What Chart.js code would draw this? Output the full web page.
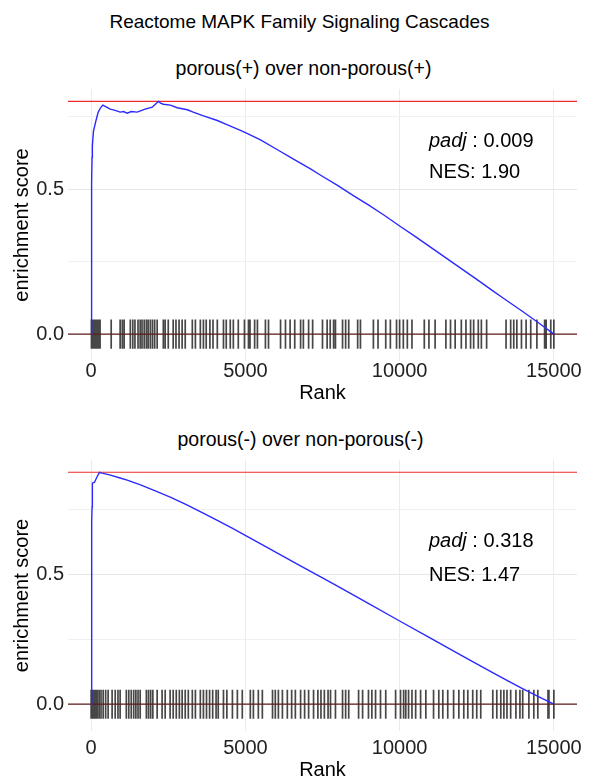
<!DOCTYPE html>
<html>
<head>
<meta charset="utf-8">
<script src="https://cdn.jsdelivr.net/npm/chart.js@4.4.1/dist/chart.umd.min.js"></script>
<style>
  body { margin: 0; width: 591px; height: 779px; overflow: hidden; background: #fff; position: relative;
         font-family: "Liberation Sans", Arial, sans-serif; color: #000; }
  canvas { position: absolute; left: 0; }
  .txt { position: absolute; white-space: nowrap; line-height: 20px; font-size: 20px; }
  .ttl { position: absolute; left: 0; width: 591px; text-align: center; white-space: nowrap; line-height: 20px; font-size: 19.5px; }
</style>
</head>
<body>
<div class="ttl" style="top:12px; left:4px; font-size:19px">Reactome MAPK Family Signaling Cascades</div>
<div class="ttl" style="top:58px; left:8px">porous(+) over non-porous(+)</div>
<div class="ttl" style="top:429px; left:5px">porous(-) over non-porous(-)</div>
<canvas id="plus" width="591" height="410" style="top:0"></canvas>
<canvas id="minus" width="591" height="375" style="top:410px"></canvas>
<div class="txt" style="left:429px; top:130px"><i>padj</i> : 0.009</div>
<div class="txt" style="left:429px; top:161px">NES: 1.90</div>
<div class="txt" style="left:429px; top:530px"><i>padj</i> : 0.318</div>
<div class="txt" style="left:429px; top:564px">NES: 1.47</div>
<script>
const rankTicks = [0, 5000, 10000, 15000];
const esTicks = [0, 0.25, 0.5, 0.75];

// porous(+) over non-porous(+)
const plusRank = [0, 10, 20, 30, 40, 75, 160, 230, 300, 380, 500, 620, 780, 940, 1050, 1170, 1300, 1490,
  1600, 1750, 1980, 2100, 2180, 2250, 2340, 2570, 2790, 3120, 3310, 3640, 4090, 4420, 4840, 5070, 5490,
  6040, 6560, 7110, 7440, 8000, 8500, 9000, 9500, 10000, 10500, 11000, 11500, 12000, 12500, 13000,
  13400, 14000, 14500, 15000];
const plusES = [0, 0.30, 0.52, 0.61, 0.65, 0.70, 0.738, 0.766, 0.78, 0.79, 0.783, 0.776, 0.772, 0.766,
  0.768, 0.762, 0.768, 0.766, 0.770, 0.776, 0.783, 0.795, 0.803, 0.797, 0.793, 0.79, 0.781, 0.774, 0.766,
  0.753, 0.737, 0.722, 0.703, 0.692, 0.670, 0.636, 0.604, 0.570, 0.548, 0.512, 0.478, 0.445, 0.41, 0.373,
  0.337, 0.30, 0.263, 0.226, 0.189, 0.151, 0.121, 0.077, 0.039, 0];
const plusHits = [10, 25, 45, 70, 95, 130, 160, 190, 220, 260, 290, 650, 940, 1010, 1070, 1270, 1350, 1420,
  1520, 1590, 1650, 1720, 1790, 1850, 1920, 1990, 2060, 2140, 2340, 2400, 2500, 2660, 2750, 2850, 2950,
  3050, 3280, 3380, 3540, 3640, 3730, 3850, 3950, 4090, 4290, 4380, 4510, 4610, 4770, 4970, 5100, 5150,
  5300, 5390, 5650, 5750, 6140, 6300, 6450, 6600, 6790, 6880, 7050, 7180, 7500, 7650, 7750, 7860, 7920,
  8150, 8250, 8350, 8640, 8730, 9150, 9300, 9550, 9700, 9900, 10000, 10120, 10250, 10400, 10800, 10950,
  11150, 11500, 11650, 11800, 12000, 12150, 12300, 12400, 12550, 12650, 12820, 13450, 13600, 13700,
  13800, 13950, 14100, 14250, 14450, 14700, 14750, 14900, 15000];

// porous(-) over non-porous(-)
const minusRank = [0, 10, 25, 30, 40, 110, 185, 270, 350, 600, 940, 1170, 1600, 2140, 2600, 3120, 3600,
  4090, 4600, 5070, 5600, 6140, 6800, 7440, 8000, 9000, 10000, 11000, 12000, 13000, 13510, 14000,
  14500, 15000];
const minusES = [0, 0.40, 0.70, 0.758, 0.85, 0.854, 0.873, 0.892, 0.889, 0.882, 0.870, 0.862, 0.844, 0.818,
  0.795, 0.766, 0.737, 0.707, 0.675, 0.645, 0.610, 0.574, 0.531, 0.490, 0.453, 0.387, 0.320, 0.254, 0.188,
  0.122, 0.090, 0.059, 0.029, 0];
const minusHits = [0, 30, 60, 100, 150, 200, 260, 320, 390, 470, 550, 680, 780, 870, 940, 1140, 1220, 1300,
  1380, 1450, 1520, 1590, 1790, 1860, 1930, 2000, 2140, 2300, 2400, 2560, 2660, 2760, 2860, 2950, 3050,
  3150, 3280, 3380, 3540, 3640, 3740, 3840, 3940, 4050, 4120, 4290, 4400, 4580, 4740, 4900, 5160, 5260,
  5420, 5550, 5880, 5970, 6070, 6200, 6360, 6500, 6620, 6790, 6920, 7050, 7210, 7350, 7450, 7560, 7680,
  7760, 7920, 8150, 8250, 8350, 8670, 8800, 8990, 9100, 9220, 9380, 9550, 9870, 10030, 10130, 10200,
  10290, 10400, 10520, 10680, 10850, 11100, 11270, 11400, 11560, 11750, 11920, 12080, 12210, 12370,
  12500, 12630, 13020, 13150, 13280, 13380, 13480, 13600, 13770, 13900, 13990, 14190, 14350, 14480,
  14810, 14840, 15000];

const FONT = '"Liberation Sans", Arial, sans-serif';

function makePanel(id, rank, es, hits, lay) {
  const top = Math.max(...es);
  const bottom = Math.min(...es);
  const diff = (top - bottom) / 8;
  const lo = Math.min(bottom, -diff / 2), hi = top;
  const yPad = (hi - lo) * 0.05;
  const xPad = (rankTicks[3] - rankTicks[0]) * 0.05;
  const xMin = rankTicks[0] - xPad, xMax = rankTicks[3] + xPad;

  const rug = [];
  hits.forEach(h => { rug.push({x: h, y: -diff / 2}, {x: h, y: diff / 2}, {x: h, y: null}); });

  new Chart(document.getElementById(id), {
    type: 'line',
    data: {
      datasets: [
        { data: rank.map((r, i) => ({x: r, y: es[i]})), borderColor: '#2a2aff', borderWidth: 1.4,
          pointRadius: 0, order: 0 },
        { data: [{x: xMin, y: top}, {x: xMax, y: top}], borderColor: '#ee2a2a', borderWidth: 1.1,
          pointRadius: 0, order: 1 },
        { data: [{x: xMin, y: 0}, {x: xMax, y: 0}], borderColor: '#5e1c1c', borderWidth: 1.3,
          pointRadius: 0, order: 2 },
        { data: rug, borderColor: 'rgba(0,0,0,0.72)', borderWidth: 1.7, pointRadius: 0,
          spanGaps: false, order: 3 }
      ]
    },
    options: {
      responsive: false,
      animation: false,
      devicePixelRatio: 1,
      layout: { padding: { top: lay.padTop, right: 14, left: 0, bottom: 0 } },
      plugins: { legend: { display: false }, tooltip: { enabled: false } },
      scales: {
        x: {
          type: 'linear', min: xMin, max: xMax,
          afterBuildTicks: s => { s.ticks = rankTicks.map(v => ({value: v})); },
          afterFit: s => { s.height = lay.xHeight; },
          grid: { color: '#ebebeb', drawTicks: false },
          border: { display: false },
          ticks: { font: {family: FONT, size: 20}, color: '#222', padding: lay.xTickPad,
                   maxRotation: 0, autoSkip: false, callback: v => String(v) },
          title: { display: true, text: 'Rank', color: '#000', font: {family: FONT, size: 20},
                   padding: { top: 0, bottom: lay.xTitlePad } }
        },
        y: {
          type: 'linear', min: lo - yPad, max: hi + yPad,
          afterBuildTicks: s => { s.ticks = esTicks.map(v => ({value: v})); },
          afterFit: s => { s.width = 68; },
          grid: { color: c => (c.tick && c.tick.value % 0.5 === 0) ? '#e6e6e6' : '#f0f0f0', drawTicks: false },
          border: { display: false },
          ticks: { font: {family: FONT, size: 20}, color: '#222', padding: 4,
                   callback: v => (v % 0.5 === 0 ? v.toFixed(1) : '') },
          title: { display: true, text: 'enrichment score', color: '#000', font: {family: FONT, size: 20},
                   padding: { top: 10, bottom: 0 } }
        }
      }
    }
  });
}

makePanel('plus', plusRank, plusES, plusHits, { padTop: 89, xHeight: 49, xTickPad: -2, xTitlePad: 5 });
makePanel('minus', minusRank, minusES, minusHits, { padTop: 50, xHeight: 54, xTickPad: 5, xTitlePad: 3 });
</script>
</body>
</html>
